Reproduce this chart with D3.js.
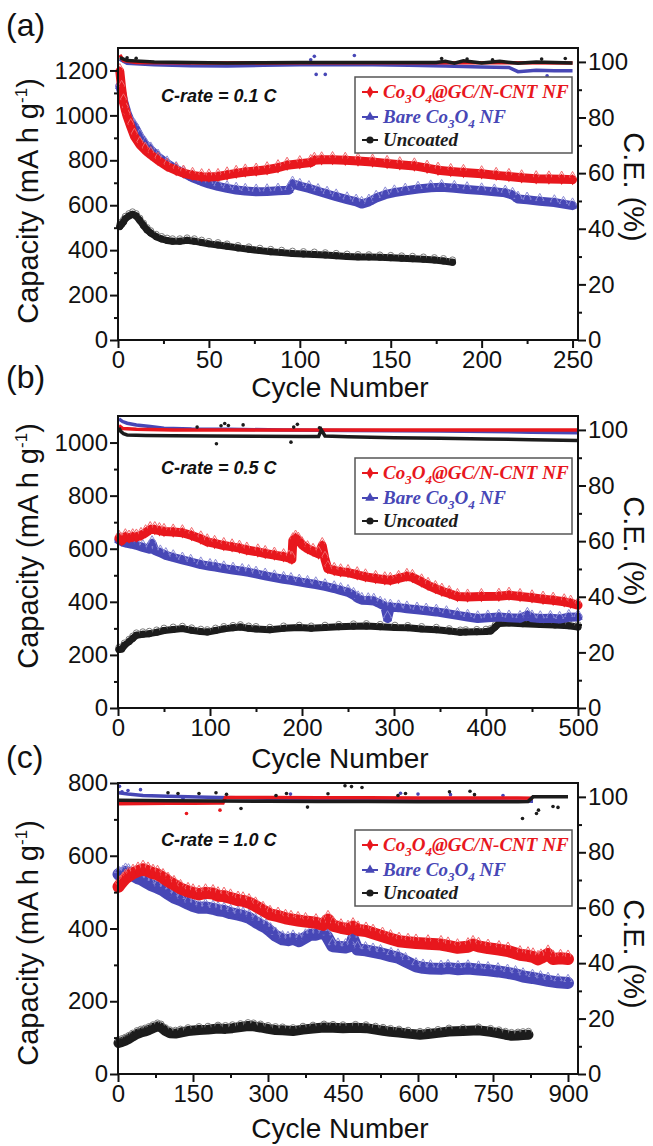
<!DOCTYPE html>
<html>
<head>
<meta charset="utf-8">
<script src="https://cdn.jsdelivr.net/npm/d3@7"></script>
<style>
  body { margin: 0; background: #fff; }
  svg { display: block; }
  .axis text { font-family: "Liberation Sans", Arial, sans-serif; font-size: 24px; fill: #111; }
  .axis line { stroke: #111; stroke-width: 2; }
  .title { font-family: "Liberation Sans", Arial, sans-serif; fill: #111; }
</style>
</head>
<body>
<div id="chart"></div>
<script>
// ---------- data: [cycle, capacity mA h g-1] ----------
const capA_red = [[1,1195],[2,1120],[3,1060],[4,1025],[5,996],[7,950],[9,907],[12,870],[15,845],[18,825],[22,800],[27,773],[32,755],[36,743],[41,733],[46,727],[50,726],[55,728],[60,735],[65,742],[70,748],[76,752],[82,758],[88,767],[93,778],[100,785],[106,790],[108,800],[112,802],[118,803],[125,800],[132,797],[140,792],[148,786],[155,780],[163,775],[170,765],[176,756],[183,750],[190,746],[200,740],[208,733],[215,728],[222,722],[230,718],[237,717],[244,716],[250,714]];
const capA_blue = [[1,1130],[2,1100],[3,1065],[5,1010],[7,970],[9,951],[12,905],[15,870],[18,847],[22,815],[27,785],[32,760],[36,743],[41,722],[46,706],[50,695],[55,684],[60,675],[65,668],[70,663],[76,660],[82,661],[88,664],[94,667],[96,695],[100,685],[105,675],[110,662],[115,650],[120,638],[126,625],[131,615],[134,605],[138,615],[142,632],[147,647],[152,656],[158,664],[165,672],[172,678],[178,680],[185,676],[192,670],[200,665],[207,660],[213,655],[217,645],[220,628],[225,624],[232,618],[240,612],[245,605],[250,598]];
const capA_black = [[1,505],[2,515],[3,525],[4,540],[6,552],[8,560],[10,552],[12,532],[14,510],[16,490],[18,476],[21,460],[24,450],[27,443],[30,440],[34,440],[38,444],[42,440],[46,434],[50,428],[55,423],[60,417],[66,410],[72,404],[78,398],[84,393],[90,389],[96,385],[102,383],[108,381],[114,378],[120,375],[126,372],[132,370],[138,369],[144,368],[150,366],[156,364],[162,362],[168,359],[174,356],[179,352],[184,346]];

const capB_red = [[1,640],[4,630],[8,645],[12,640],[16,645],[20,644],[25,650],[30,660],[35,672],[40,672],[45,668],[50,665],[60,663],[70,660],[80,650],[90,637],[97,626],[105,620],[115,612],[124,607],[132,602],[140,595],[152,588],[160,582],[170,576],[180,570],[186,565],[189,560],[190,630],[193,640],[196,632],[200,615],[206,600],[212,590],[218,580],[222,612],[225,560],[228,525],[235,518],[242,513],[250,510],[260,502],[269,494],[280,488],[290,483],[296,481],[305,488],[314,496],[320,492],[330,475],[337,462],[345,450],[352,440],[360,431],[369,420],[380,418],[395,420],[414,421],[425,425],[437,420],[450,415],[462,410],[473,406],[485,400],[492,395],[500,387]];
const capB_blue = [[1,632],[5,625],[10,620],[15,617],[20,613],[27,605],[34,598],[37,620],[40,593],[46,585],[52,575],[60,567],[70,558],[79,550],[90,540],[100,534],[106,531],[115,525],[125,520],[135,515],[142,511],[150,505],[160,498],[170,491],[180,485],[188,481],[197,475],[206,470],[215,465],[225,458],[235,450],[242,443],[250,436],[256,425],[261,412],[265,406],[272,405],[278,403],[285,392],[290,383],[293,337],[296,381],[305,378],[314,374],[325,370],[335,366],[346,362],[357,356],[369,349],[380,343],[391,337],[402,340],[414,343],[425,340],[437,338],[445,350],[450,340],[459,337],[470,338],[480,335],[490,342],[500,343]];
const capB_black = [[1,220],[4,222],[7,236],[12,250],[16,262],[20,274],[27,278],[34,280],[42,285],[50,292],[60,296],[70,299],[80,293],[90,288],[97,286],[106,292],[115,298],[125,302],[133,305],[142,300],[150,298],[165,295],[180,300],[197,303],[210,300],[225,303],[240,306],[256,308],[270,309],[285,306],[301,303],[315,302],[330,298],[346,295],[360,290],[372,285],[378,286],[390,287],[400,288],[405,290],[410,305],[414,318],[425,320],[440,317],[459,315],[475,313],[490,310],[500,305]];

const capC_red = [[1,515],[5,522],[10,530],[15,538],[21,544],[30,552],[40,558],[50,563],[60,558],[70,552],[79,549],[90,540],[100,530],[112,521],[125,510],[140,502],[150,498],[162,494],[175,498],[190,496],[200,490],[212,489],[225,484],[240,478],[250,476],[262,471],[275,462],[290,450],[304,439],[320,434],[335,428],[346,425],[360,422],[375,419],[396,416],[410,410],[420,425],[430,408],[446,402],[460,398],[470,405],[480,396],[496,393],[510,387],[529,379],[545,372],[562,365],[580,362],[596,360],[620,358],[646,356],[660,352],[679,347],[700,350],[710,356],[721,351],[740,346],[762,342],[780,338],[804,328],[820,325],[830,322],[840,315],[846,319],[860,330],[870,316],[885,318],[900,316]];
const capC_blue = [[1,549],[5,545],[10,550],[15,556],[21,554],[30,545],[40,538],[46,535],[55,528],[65,520],[79,512],[90,505],[100,495],[112,485],[125,478],[140,468],[150,462],[162,457],[175,458],[190,454],[200,450],[212,448],[225,442],[240,438],[250,435],[262,429],[275,418],[285,410],[296,402],[305,392],[315,380],[329,370],[340,368],[350,372],[362,365],[375,375],[385,383],[396,383],[410,390],[418,378],[429,351],[440,350],[455,348],[465,352],[470,372],[479,342],[495,340],[510,336],[525,332],[546,324],[560,320],[575,310],[596,296],[610,292],[625,290],[646,289],[660,291],[680,288],[700,290],[721,287],[740,285],[760,282],[779,278],[795,274],[810,268],[829,264],[845,260],[860,256],[880,252],[900,250]];
const capC_black = [[1,85],[8,88],[15,92],[22,97],[29,103],[38,110],[46,114],[54,117],[62,121],[70,126],[79,131],[86,128],[95,118],[104,112],[115,111],[125,114],[140,118],[162,121],[180,122],[200,125],[215,124],[229,126],[245,129],[260,132],[271,131],[285,128],[300,124],[315,121],[329,120],[350,118],[370,122],[390,125],[412,128],[430,127],[450,126],[475,127],[496,126],[515,122],[530,119],[545,116],[562,114],[580,111],[604,108],[620,110],[640,113],[662,117],[690,118],[721,120],[745,116],[762,112],[775,108],[787,105],[800,106],[810,107],[821,108]];

// coulombic efficiency [cycle, %]
const ceA_red = [[1,102.5],[3,100.5],[10,99.8],[50,99.6],[100,99.7],[150,99.7],[200,99.7],[250,99.6]];
const ceA_blue = [[1,101],[5,99.5],[20,99],[40,98.6],[60,98.5],[80,98.8],[100,99],[120,99],[140,99],[160,98.8],[180,98.5],[200,98.2],[215,98],[220,96.5],[230,97],[240,96.8],[250,96.8]];
const ceA_black = [[1,101.5],[5,100.5],[10,100.3],[20,100],[40,99.8],[60,99.6],[80,99.7],[100,99.8],[120,99.8],[140,99.8],[160,99.8],[175,99.8],[180,100.2],[185,99.5],[190,100.4],[200,99.6],[210,100.2],[220,99.5],[230,100],[240,99.8],[250,99.6]];
const ceB_red = [[1,101.5],[5,100.5],[20,100.2],[60,100],[150,100],[250,100],[350,100],[450,100],[500,100]];
const ceB_blue = [[1,104],[5,103],[10,102.4],[20,101.8],[35,101.2],[50,100.6],[80,100.3],[120,100.2],[180,100],[250,99.8],[300,99.7],[350,99.6],[400,99.4],[450,99.2],[500,99]];
const ceB_black = [[1,100.8],[3,99.5],[6,98.6],[10,98.2],[30,98],[60,97.9],[100,97.8],[150,97.7],[200,97.6],[218,97.6],[221,100],[225,97.8],[250,97.5],[300,97.2],[350,97],[400,96.7],[450,96.5],[500,96.2]];
const ceC_red = [[1,97.5],[50,97.6],[100,97.7],[150,97.7],[200,97.8],[210,97.8],[215,99.8],[300,99.8],[400,99.7],[500,99.7],[600,99.6],[700,99.6],[800,99.6],[830,99.5]];
const ceC_blue = [[1,101.5],[20,101],[50,100.5],[100,100.2],[200,99.8],[300,99.5],[400,99.2],[500,99],[600,98.8],[700,98.7],[800,98.5],[830,98.4]];
const ceC_black = [[1,98.8],[100,98.6],[200,98.5],[300,98.4],[400,98.3],[500,98.3],[600,98.2],[700,98.2],[800,98.2],[820,98.3],[830,100],[900,100]];

// scattered CE outliers
const ceOutA_blue = [[106,100.8],[108,102],[109,95.5],[114,95.5],[130,102.3],[236,95]];
const ceOutA_black = [[5,101.5],[10,101.3],[178,101.2],[192,101],[206,100.8],[233,101],[246,101.2]];
const ceOutB_black = [[86,101],[107,95],[112,101.5],[116,102.3],[120,101.6],[136,101.8],[188,95.6],[191,101],[195,102],[219,100.8]];
const ceOutC_black = [[100,101.5],[120,101.2],[162,101.2],[196,101.5],[217,100.9],[337,101.2],[420,101.1],[454,104],[467,103.7],[488,103.4],[575,101.2],[663,101.8],[704,102],[713,100.8],[379,96.3],[246,95.8],[809,92.2],[837,94],[841,95.2],[870,96.5],[880,96.2],[316,100.5],[560,100.5]];
const ceOutC_red = [[137,94],[204,95.2]];
const ceOutC_blue = [[3,103.8],[8,101.8],[20,102.3],[45,102.6],[130,99.5],[345,101],[565,101.3],[600,101],[665,100.8],[770,100.5]];

// ticks
const xTicksA = [0,50,100,150,200,250], xMinorA = [25,75,125,175,225];
const xTicksB = [0,100,200,300,400,500], xMinorB = [50,150,250,350,450];
const xTicksC = [0,150,300,450,600,750,900], xMinorC = [75,225,375,525,675,825];
const yTicksA = [0,200,400,600,800,1000,1200], yMinorA = [100,300,500,700,900,1100];
const yTicksB = [0,200,400,600,800,1000], yMinorB = [100,300,500,700,900];
const yTicksC = [0,200,400,600,800], yMinorC = [100,300,500,700];
const ceTicks = [0,20,40,60,80,100], ceMinor = [10,30,50,70,90];

// legend labels: [text, isSubscript]
const legendLabels = [
  [["Co",0],["3",1],["O",0],["4",1],["@GC/N-CNT NF",0]],
  [["Bare Co",0],["3",1],["O",0],["4",1],[" NF",0]],
  [["Uncoated",0]]
];
const seriesKeys = ["red", "blue", "black"];
const rates = ["C-rate = 0.1 C", "C-rate = 0.5 C", "C-rate = 1.0 C"];

// ---------- layout ----------
const W = 653, H = 1146;
const left = 118, right = 578;
const colors = { red: "#e8171d", blue: "#4747b6", black: "#1c1c1c" };
const light = { red: "#f2686c", blue: "#8a8ad6", black: "#7a7a7a" };
const symbols = { red: d3.symbolDiamond, blue: d3.symbolTriangle, black: d3.symbolCircle };

const panels = [
  { tag: "(a)", tagY: 36, top: 48, bottom: 340, xMax: 253, yMax: 1300,
    xTicks: xTicksA, xMinor: xMinorA, yTicks: yTicksA, yMinor: yMinorA,
    cap: { red: capA_red, blue: capA_blue, black: capA_black },
    ce: { red: ceA_red, blue: ceA_blue, black: ceA_black },
    ceOut: { red: [], blue: ceOutA_blue, black: ceOutA_black },
    rateY: 102, legendTop: 77, yLabelY: 201, ceLabelY: 187, xLabelY: 397, band: 9 },
  { tag: "(b)", tagY: 388, top: 416, bottom: 708, xMax: 500, yMax: 1100,
    xTicks: xTicksB, xMinor: xMinorB, yTicks: yTicksB, yMinor: yMinorB,
    cap: { red: capB_red, blue: capB_blue, black: capB_black },
    ce: { red: ceB_red, blue: ceB_blue, black: ceB_black },
    ceOut: { red: [], blue: [], black: ceOutB_black },
    rateY: 474, legendTop: 458, yLabelY: 546, ceLabelY: 551, xLabelY: 768, band: 9 },
  { tag: "(c)", tagY: 768, top: 783, bottom: 1074, xMax: 920, yMax: 800,
    xTicks: xTicksC, xMinor: xMinorC, yTicks: yTicksC, yMinor: yMinorC,
    cap: { red: capC_red, blue: capC_blue, black: capC_black },
    ce: { red: ceC_red, blue: ceC_blue, black: ceC_black },
    ceOut: { red: ceOutC_red, blue: ceOutC_blue, black: ceOutC_black },
    rateY: 846, legendTop: 830, yLabelY: 943, ceLabelY: 954, xLabelY: 1138, band: 12 }
];

const svg = d3.select("#chart").append("svg")
  .attr("width", W)
  .attr("height", H);

panels.forEach((p, pi) => {
  const x = d3.scaleLinear().domain([0, p.xMax]).range([left, right]);
  const y = d3.scaleLinear().domain([0, p.yMax]).range([p.bottom, p.top]);
  const yce = d3.scaleLinear().domain([0, 105]).range([p.bottom, p.top]);
  const g = svg.append("g");

  // capacity bands
  ["black", "blue", "red"].forEach(k => {
    const data = p.cap[k];
    const line = d3.line().x(d => x(d[0])).y(d => y(d[1]));
    const bw = k === "black" ? p.band - 2 : p.band;
    g.append("path")
      .attr("d", line(data))
      .attr("fill", "none")
      .attr("stroke", colors[k])
      .attr("stroke-width", bw)
      .attr("stroke-linejoin", "round")
      .attr("stroke-linecap", "round");
    // open (charge) symbols sitting on the upper edge
    g.selectAll(null).data(data).enter().append("path")
      .attr("d", d3.symbol().type(symbols[k]).size(30))
      .attr("transform", d => `translate(${x(d[0])},${y(d[1]) - bw / 3})`)
      .attr("fill", "none")
      .attr("stroke", light[k])
      .attr("stroke-width", 1);
    g.selectAll(null).data(data).enter().append("path")
      .attr("d", d3.symbol().type(symbols[k]).size(38))
      .attr("transform", d => `translate(${x(d[0])},${y(d[1])})`)
      .attr("fill", colors[k]);
  });

  // coulombic efficiency
  ["blue", "red", "black"].forEach(k => {
    const data = p.ce[k];
    const line = d3.line().x(d => x(d[0])).y(d => yce(d[1]));
    g.append("path")
      .attr("d", line(data))
      .attr("fill", "none")
      .attr("stroke", colors[k])
      .attr("stroke-width", 3.5);
    g.selectAll(null).data(p.ceOut[k]).enter().append("circle")
      .attr("cx", d => x(d[0]))
      .attr("cy", d => yce(d[1]))
      .attr("r", 1.8)
      .attr("fill", colors[k]);
  });

  // axes
  const ax = svg.append("g").attr("class", "axis");
  ax.append("g").attr("transform", `translate(0,${p.bottom})`)
    .call(d3.axisBottom(x).tickValues(p.xTicks).tickSize(8).tickPadding(3).tickFormat(d3.format("d")))
    .call(s => s.select(".domain").remove());
  ax.append("g").attr("transform", `translate(0,${p.bottom})`)
    .call(d3.axisBottom(x).tickValues(p.xMinor).tickSize(4).tickFormat(""))
    .call(s => s.select(".domain").remove());
  ax.append("g").attr("transform", `translate(${left},0)`)
    .call(d3.axisLeft(y).tickValues(p.yTicks).tickSize(8).tickPadding(2).tickFormat(d3.format("d")))
    .call(s => s.select(".domain").remove());
  ax.append("g").attr("transform", `translate(${left},0)`)
    .call(d3.axisLeft(y).tickValues(p.yMinor).tickSize(4).tickFormat(""))
    .call(s => s.select(".domain").remove());
  ax.append("g").attr("transform", `translate(${right},0)`)
    .call(d3.axisRight(yce).tickValues(ceTicks).tickSize(8).tickPadding(2))
    .call(s => s.select(".domain").remove());
  ax.append("g").attr("transform", `translate(${right},0)`)
    .call(d3.axisRight(yce).tickValues(ceMinor).tickSize(4).tickFormat(""))
    .call(s => s.select(".domain").remove());

  svg.append("rect")
    .attr("x", left).attr("y", p.top)
    .attr("width", right - left).attr("height", p.bottom - p.top)
    .attr("fill", "none").attr("stroke", "#111").attr("stroke-width", 2);

  // panel tag
  svg.append("text").attr("class", "title")
    .attr("x", 6).attr("y", p.tagY)
    .style("font-size", "32px")
    .text(p.tag);

  // axis titles
  svg.append("text").attr("class", "title")
    .attr("x", (left + right) / 2 - 8).attr("y", p.xLabelY)
    .attr("text-anchor", "middle")
    .style("font-size", "28px")
    .text("Cycle Number");

  const yl = svg.append("text").attr("class", "title")
    .attr("transform", `translate(38,${p.yLabelY}) rotate(-90)`)
    .attr("text-anchor", "middle")
    .style("font-size", "29px");
  yl.append("tspan").text("Capacity (mA h g");
  yl.append("tspan").attr("dy", -11).style("font-size", "17px").text("-1");
  yl.append("tspan").attr("dy", 11).text(")");

  svg.append("text").attr("class", "title")
    .attr("transform", `translate(624,${p.ceLabelY}) rotate(90)`)
    .attr("text-anchor", "middle")
    .style("font-size", "29px")
    .text("C.E. (%)");

  // C-rate annotation
  svg.append("text").attr("class", "title")
    .attr("x", 161).attr("y", p.rateY)
    .style("font-size", "18px")
    .style("font-weight", "bold")
    .style("font-style", "italic")
    .text(rates[pi]);

  // legend
  const lg = svg.append("g").attr("transform", `translate(355,${p.legendTop})`);
  lg.append("rect")
    .attr("width", 217).attr("height", 76)
    .attr("fill", "#fff").attr("stroke", "#555").attr("stroke-width", 1.5);
  const rowY = [15, 40, 63];
  seriesKeys.forEach((k, i) => {
    lg.append("line")
      .attr("x1", 7).attr("x2", 23)
      .attr("y1", rowY[i]).attr("y2", rowY[i])
      .attr("stroke", colors[k]).attr("stroke-width", 2);
    lg.append("path")
      .attr("d", d3.symbol().type(symbols[k]).size(40))
      .attr("transform", `translate(15,${rowY[i]})`)
      .attr("fill", colors[k]);
    const t = lg.append("text")
      .attr("x", 28).attr("y", rowY[i] + 6)
      .attr("fill", colors[k])
      .style("font-family", "'Liberation Serif', 'Times New Roman', serif")
      .style("font-weight", "bold")
      .style("font-style", "italic")
      .style("font-size", "19px");
    legendLabels[i].forEach(([txt, sub], j) => {
      const prevSub = j > 0 && legendLabels[i][j - 1][1];
      t.append("tspan")
        .attr("dy", sub ? 5 : (prevSub ? -5 : 0))
        .style("font-size", sub ? "13px" : null)
        .text(txt);
    });
  });
});
</script>
</body>
</html>
